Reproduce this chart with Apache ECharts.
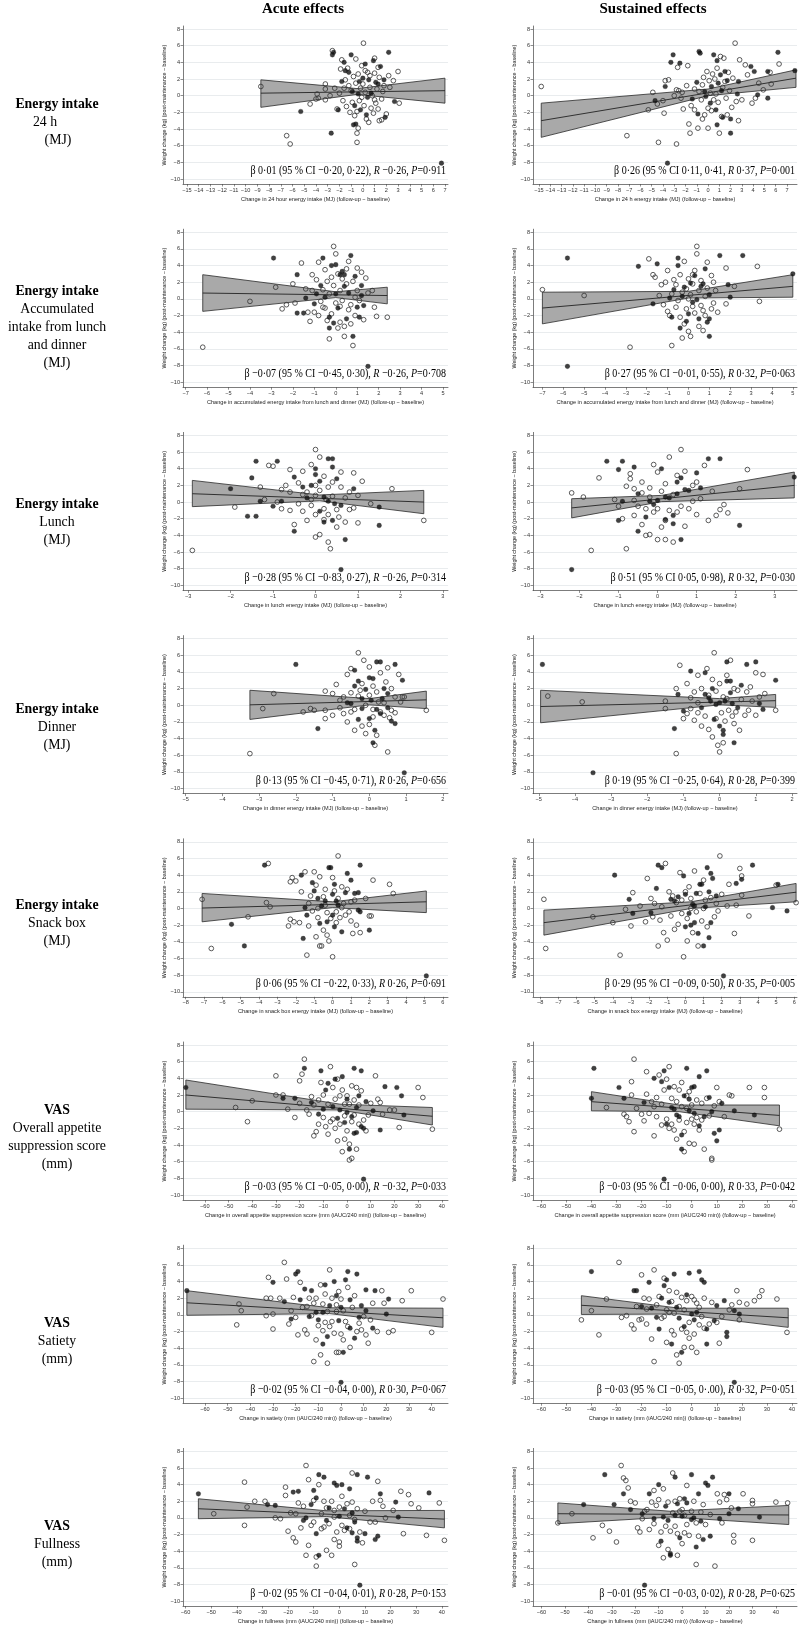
<!DOCTYPE html>
<html lang="en">
<head>
<meta charset="UTF-8">
<title>Weight change against change in energy intake and appetite</title>
<script src="https://cdn.jsdelivr.net/npm/echarts@6/dist/echarts.min.js"></script>
<style>
  html, body { margin: 0; padding: 0; background: #fff; }
  #chart { width: 800px; height: 1625px; }
</style>
</head>
<body>
<div id="chart"></div>
<script>
// ---- tick labels ----
var yTicks = [-10, -8, -6, -4, -2, 0, 2, 4, 6, 8];
var ticks24h = [-15, -14, -13, -12, -11, -10, -9, -8, -7, -6, -5, -4, -3, -2, -1, 0, 1, 2, 3, 4, 5, 6, 7];
var ticksAccum = [-7, -6, -5, -4, -3, -2, -1, 0, 1, 2, 3, 4, 5];
var ticksLunch = [-3, -2, -1, 0, 1, 2, 3];
var ticksDinner = [-5, -4, -3, -2, -1, 0, 1, 2];
var ticksSnack = [-8, -7, -6, -5, -4, -3, -2, -1, 0, 1, 2, 3, 4, 5, 6];
var ticksVas = [-60, -50, -40, -30, -20, -10, 0, 10, 20, 30, 40];

var colTitles = ['Acute effects', 'Sustained effects'];
var rowLabels = [
  ['Energy intake', '24 h', '(MJ)'],
  ['Energy intake', 'Accumulated', 'intake from lunch', 'and dinner', '(MJ)'],
  ['Energy intake', 'Lunch', '(MJ)'],
  ['Energy intake', 'Dinner', '(MJ)'],
  ['Energy intake', 'Snack box', '(MJ)'],
  ['VAS', 'Overall appetite', 'suppression score', '(mm)'],
  ['VAS', 'Satiety', '(mm)'],
  ['VAS', 'Fullness', '(mm)']
];
var yName = 'Weight change (kg) (post-maintenance \u2212 baseline)';
var xNames = [
  'Change in 24 hour energy intake (MJ) (follow-up \u2212 baseline)',
  'Change in 24 h energy intake (MJ) (follow-up \u2212 baseline)',
  'Change in accumulated energy intake from lunch and dinner (MJ) (follow-up \u2212 baseline)',
  'Change in accumulated energy intake from lunch and dinner (MJ) (follow-up \u2212 baseline)',
  'Change in lunch energy intake (MJ) (follow-up \u2212 baseline)',
  'Change in lunch energy intake (MJ) (follow-up \u2212 baseline)',
  'Change in dinner energy intake (MJ) (follow-up \u2212 baseline)',
  'Change in dinner energy intake (MJ) (follow-up \u2212 baseline)',
  'Change in snack box energy intake (MJ) (follow-up \u2212 baseline)',
  'Change in snack box energy intake (MJ) (follow-up \u2212 baseline)',
  'Change in overall appetite suppression score (mm (iAUC/240 min)) (follow-up \u2212 baseline)',
  'Change in overall appetite suppression score (mm (iAUC/240 min)) (follow-up \u2212 baseline)',
  'Change in satiety (mm (iAUC/240 min)) (follow-up \u2212 baseline)',
  'Change in satiety (mm (iAUC/240 min)) (follow-up \u2212 baseline)',
  'Change in fullness (mm (iAUC/240 min)) (follow-up \u2212 baseline)',
  'Change in fullness (mm (iAUC/240 min)) (follow-up \u2212 baseline)'
];
// β / R / P per panel
var statBeta = [
  '0\u00b701 (95 % CI \u22120\u00b720, 0\u00b722)', '0\u00b726 (95 % CI 0\u00b711, 0\u00b741',
  '\u22120\u00b707 (95 % CI \u22120\u00b745, 0\u00b730)', '0\u00b727 (95 % CI \u22120\u00b701, 0\u00b755)',
  '\u22120\u00b728 (95 % CI \u22120\u00b783, 0\u00b727)', '0\u00b751 (95 % CI 0\u00b705, 0\u00b798)',
  '0\u00b713 (95 % CI \u22120\u00b745, 0\u00b771)', '0\u00b719 (95 % CI \u22120\u00b725, 0\u00b764)',
  '0\u00b706 (95 % CI \u22120\u00b722, 0\u00b733)', '0\u00b729 (95 % CI \u22120\u00b709, 0\u00b750)',
  '\u22120\u00b703 (95 % CI \u22120\u00b705, 0\u00b700)', '\u22120\u00b703 (95 % CI \u22120\u00b706, 0\u00b700)',
  '\u22120\u00b702 (95 % CI \u22120\u00b704, 0\u00b700)', '\u22120\u00b703 (95 % CI \u22120\u00b705, 0\u00b7.00)',
  '\u22120\u00b702 (95 % CI \u22120\u00b704, 0\u00b701)', '\u22120\u00b701 (95 % CI \u22120\u00b703, 0\u00b702)'
];
var statR = ['\u22120\u00b726', '0\u00b737', '\u22120\u00b726', '0\u00b732', '\u22120\u00b726', '0\u00b732', '0\u00b726', '0\u00b728',
  '0\u00b726', '0\u00b735', '\u22120\u00b732', '0\u00b733', '0\u00b730', '0\u00b732', '0\u00b728', '0\u00b728'];
var statP = ['0\u00b7911', '0\u00b7001', '0\u00b7708', '0\u00b7063', '0\u00b7314', '0\u00b7030', '0\u00b7656', '0\u00b7399',
  '0\u00b7691', '0\u00b7005', '0\u00b7033', '0\u00b7042', '0\u00b7067', '0\u00b7051', '0\u00b7153', '0\u00b7625'];

// ---- 24 h, acute ----
var a1Filled = [[-5.3,-1.9],[-2.7,-4.5],[-2.5,5.2],[-2.6,4.9],[-1.6,4.0],[-1.5,3.0],[-2.1,-1.7],[-1.0,4.9],[0.2,3.8],[0.9,4.2],[1.5,3.5],[2.2,5.2],[1.9,-2.6],[-0.8,-3.5],[-0.6,-3.4],[6.7,-8.1],[1.8,1.9],[-1.2,2.8],[-0.3,1.7],[0.5,1.9],[1.1,1.6],[-0.7,-1.2],[-0.2,-1.7],[0.3,-2.3],[-0.9,0.5],[0.7,0.3],[1.3,1.4],[-1.8,1.7],[0.0,2.1],[2.7,-0.7],[-0.4,0.2],[0.4,-0.2]];
var a1Open = [[-8.7,1.1],[-6.5,-4.8],[-6.2,-5.8],[-4.5,-1.0],[-4.0,-0.4],[-3.8,-0.3],[-3.9,0.2],[-3.2,1.4],[-3.2,0.8],[-3.2,-0.5],[-2.6,5.4],[-1.8,4.3],[-1.9,3.2],[-1.3,3.3],[-2.2,-1.6],[-0.6,4.4],[0.05,6.3],[-0.1,3.6],[1.0,4.5],[1.3,3.4],[3.0,2.9],[2.2,2.4],[2.3,1.0],[2.0,-2.2],[1.6,-2.9],[1.4,-3.0],[3.1,-0.9],[-0.4,-3.9],[-0.5,-4.5],[-0.5,-5.6],[2.6,1.8],[-1.5,1.9],[-1.2,1.2],[-1.0,0.6],[-0.8,2.3],[-0.6,1.5],[-0.4,2.6],[-0.2,0.9],[0.0,1.4],[0.2,0.4],[0.4,2.8],[0.6,1.0],[0.8,0.0],[1.0,-0.5],[1.2,0.8],[1.4,2.2],[1.7,0.5],[-2.0,0.3],[-1.7,-0.6],[-1.4,-1.3],[-1.1,-2.0],[-0.9,-0.8],[-0.7,-2.4],[-0.5,-1.9],[-0.3,-0.6],[0.1,-1.2],[0.3,-2.8],[0.5,-3.2],[0.7,-1.5],[0.9,-2.1],[1.1,-0.9],[1.3,-1.6],[1.6,-0.4],[-2.4,0.9],[-2.8,0.0],[0.6,2.4],[-0.1,-0.2],[1.8,1.2],[-1.6,0.9],[0.2,3.0],[1.0,2.7]];
var a1Fit = [[-8.7,0.3],[7.0,0.6]];
var a1Band = [[-8.7,-1.4,1.9],[-0.5,0.15,0.85],[7.0,-0.9,2.1]];

// ---- 24 h, sustained ----
var a2Filled = [[-3.1,4.9],[-3.3,4.0],[-2.5,3.9],[-3.6,-8.1],[-3.8,1.1],[-4.7,-0.6],[-1.4,-0.4],[-1.0,1.6],[-0.9,-2.2],[-0.8,5.3],[-0.7,5.1],[0.5,4.9],[0.8,4.2],[1.5,2.9],[1.7,1.8],[2.0,-2.8],[2.0,-4.5],[1.3,-2.6],[0.7,-1.7],[0.8,-3.5],[0.2,-0.9],[-0.3,0.5],[0.9,1.5],[1.1,2.5],[2.6,0.2],[2.7,1.7],[3.8,3.5],[4.1,2.9],[4.4,0.1],[5.3,2.9],[5.3,-0.3],[6.2,5.2],[7.7,3.0],[0.3,1.1],[-0.2,-0.1],[1.2,0.6]];
var a2Open = [[-14.8,1.1],[-7.2,-4.8],[-5.3,-1.7],[-4.9,0.4],[-4.5,-1.0],[-4.4,-5.6],[-4.0,-0.6],[-3.8,1.8],[-3.5,1.9],[-3.9,-2.1],[-3.0,0.0],[-2.8,0.7],[-2.7,3.4],[-2.6,0.6],[-2.8,-5.8],[-2.3,0.4],[-2.2,-1.6],[-1.8,3.6],[-1.6,-4.5],[-1.7,-3.4],[-1.5,-1.2],[-1.2,-1.7],[-1.2,0.8],[-0.9,-3.9],[-0.6,-0.5],[-0.5,1.3],[-0.4,2.2],[-0.3,-2.3],[-0.1,2.9],[0.0,-3.9],[0.1,1.8],[0.3,-1.8],[0.4,2.6],[0.5,-0.5],[0.6,2.0],[0.7,0.2],[0.9,-0.8],[1.0,-4.5],[1.1,4.7],[1.2,-2.5],[1.4,4.5],[1.5,1.7],[1.6,-0.3],[1.8,2.8],[1.9,0.6],[2.1,-1.4],[2.2,2.1],[2.4,6.3],[2.5,-0.7],[2.7,-3.0],[2.8,4.3],[3.0,-0.5],[3.3,3.7],[3.5,2.5],[3.9,-0.9],[4.2,-0.3],[4.5,1.5],[4.9,0.7],[5.6,1.4],[6.3,3.8],[5.5,2.8],[-0.8,0.5],[0.2,0.3],[1.3,1.0],[-1.9,1.2],[-2.4,-0.3],[0.0,-1.5],[0.8,3.3],[-0.5,-2.8],[1.7,-2.3]];
var a2Fit = [[-14.8,-3.0],[7.8,2.1]];
var a2Band = [[-14.8,-5.0,-0.9],[0,0.0,0.8],[7.8,1.0,3.1]];

// ---- lunch + dinner, acute ----
var a3Filled = [[-2.9,4.9],[-1.8,2.9],[-1.8,-1.7],[-1.5,-1.7],[-1.4,0.1],[-1.0,-0.6],[-0.9,0.6],[-0.7,1.6],[-0.6,4.9],[-0.3,-2.2],[-0.2,4.0],[0.0,4.1],[0.2,2.9],[0.3,3.3],[0.4,1.5],[0.1,-1.1],[-0.3,-3.5],[-0.1,-2.9],[0.5,-2.4],[0.7,5.2],[0.9,2.7],[1.1,-2.2],[1.2,0.4],[1.2,1.6],[1.3,-0.8],[0.8,-4.5],[1.5,-8.1],[0.4,2.9],[-0.5,0.2],[0.6,0.7],[0.0,0.6],[1.0,-1.0]];
var a3Open = [[-6.2,-5.8],[-4.0,-0.3],[-2.8,1.4],[-2.3,-0.7],[-2.0,1.8],[-1.9,-0.5],[-1.6,4.3],[-1.4,1.2],[-1.2,-2.7],[-1.1,1.0],[-1.0,-1.6],[-0.9,2.3],[-0.8,-2.0],[-0.8,4.4],[-0.7,-0.3],[-0.6,1.1],[-0.5,3.5],[-0.5,-1.1],[-0.4,2.1],[-0.4,-2.6],[-0.3,0.6],[-0.2,-1.8],[-0.1,6.3],[-0.1,1.6],[0.0,5.4],[0.0,-0.5],[0.1,3.0],[0.1,-3.5],[0.2,1.0],[0.2,-2.8],[0.3,-0.2],[0.4,-4.5],[0.4,-3.3],[0.5,3.6],[0.5,1.8],[0.6,-1.3],[0.6,4.5],[0.7,-0.7],[0.8,2.1],[0.8,-5.6],[0.9,0.2],[0.9,-2.0],[1.0,3.7],[1.0,1.0],[1.1,-0.2],[1.3,-2.5],[1.4,2.5],[1.5,0.7],[1.7,1.0],[1.8,-1.0],[1.9,-2.1],[2.4,-2.2],[-0.3,-4.8],[-0.2,2.6],[0.3,2.4],[-1.3,-1.6],[-0.6,-1.0],[0.2,-0.9],[1.2,3.2],[-2.5,-1.2],[0.7,-3.0],[-1.1,2.9]];
var a3Fit = [[-6.2,0.7],[2.4,0.4]];
var a3Band = [[-6.2,-1.5,2.9],[0,0.15,0.85],[2.4,-0.6,1.4]];

// ---- lunch + dinner, sustained ----
var a4Filled = [[-5.8,4.9],[-5.8,-8.1],[-2.4,3.9],[-1.5,4.2],[-1.7,-0.6],[-0.9,0.1],[-0.8,-2.2],[-0.7,1.1],[-0.5,4.9],[-0.5,4.0],[-0.4,-3.5],[-0.3,0.3],[-0.1,-2.7],[0.0,-1.8],[0.1,1.9],[0.4,-0.1],[0.5,-2.4],[0.6,1.5],[0.7,1.8],[0.8,3.6],[0.9,-2.8],[1.0,-2.4],[1.0,-4.5],[1.0,0.5],[1.5,5.2],[1.9,1.7],[2.0,0.2],[2.6,5.2],[5.0,3.0],[0.2,-0.4],[-0.2,1.4],[0.3,2.8]];
var a4Open = [[-7.0,1.1],[-5.0,0.4],[-2.8,-5.8],[-1.9,4.8],[-1.7,2.9],[-1.6,2.6],[-1.3,1.7],[-1.2,-0.7],[-1.1,2.0],[-1.0,3.4],[-1.0,-1.5],[-0.9,-2.0],[-0.8,-5.6],[-0.7,2.3],[-0.6,-1.0],[-0.6,1.7],[-0.5,-0.2],[-0.4,2.9],[-0.4,-2.2],[-0.3,0.8],[-0.2,-3.0],[-0.2,4.5],[-0.1,1.2],[-0.1,-1.2],[0.0,2.4],[0.0,-3.9],[0.1,-4.5],[0.1,0.5],[0.2,-0.9],[0.2,2.9],[0.3,-1.7],[0.4,6.3],[0.4,5.4],[0.5,1.0],[0.5,-3.3],[0.6,-0.8],[0.6,2.2],[0.7,-1.4],[0.8,0.3],[0.8,-2.0],[0.9,4.4],[0.9,1.3],[1.1,2.8],[1.1,-1.2],[1.2,-0.5],[1.3,1.0],[1.4,-1.6],[1.8,3.7],[1.8,-0.6],[2.2,1.5],[3.3,3.9],[3.4,-0.3],[0.0,0.0],[-0.3,-4.7],[0.3,3.4],[-0.8,0.6],[0.7,-3.8],[1.2,2.0],[-1.4,0.4],[0.2,1.8]];
var a4Fit = [[-7.0,-1.1],[5.0,1.5]];
var a4Band = [[-7.0,-3.0,0.8],[0,0.1,0.9],[5.0,0.2,2.9]];

// ---- lunch, acute ----
var a5Filled = [[-2.0,1.6],[-1.6,-1.7],[-1.4,4.9],[-1.5,2.9],[-1.4,-1.7],[-1.3,0.1],[-1.0,-0.5],[-0.9,4.9],[-0.8,0.1],[-0.5,3.0],[-0.5,-3.5],[-0.3,1.8],[-0.1,2.0],[0.0,3.3],[0.0,4.0],[0.1,2.5],[0.2,-2.4],[0.3,0.1],[0.3,5.2],[0.4,5.2],[0.4,4.2],[0.4,-2.2],[0.5,2.8],[0.6,-0.4],[0.7,-4.5],[0.6,-8.1],[0.9,1.6],[1.5,-0.6],[1.5,-2.8],[0.2,0.6],[0.1,-1.1],[-0.2,0.5],[0.45,-0.2]];
var a5Open = [[-2.9,-5.8],[-1.9,-0.6],[-1.3,1.8],[-1.2,0.3],[-1.1,4.4],[-1.0,4.3],[-0.9,0.0],[-0.8,-0.8],[-0.7,2.0],[-0.6,3.9],[-0.6,1.2],[-0.5,-2.7],[-0.4,-0.2],[-0.4,2.3],[-0.3,-1.1],[-0.3,3.7],[-0.2,-2.2],[-0.2,1.2],[-0.1,0.3],[-0.1,4.5],[0.0,-1.5],[0.0,-4.2],[0.0,6.3],[0.1,-3.9],[0.1,1.4],[0.1,5.4],[0.2,-0.8],[0.2,3.1],[0.2,-2.1],[0.3,-4.8],[0.3,1.8],[0.3,-1.5],[0.35,-5.6],[0.4,0.7],[0.5,-3.0],[0.5,-0.9],[0.6,1.8],[0.6,3.6],[0.7,0.5],[0.7,-2.4],[0.8,-0.9],[0.9,3.5],[0.9,-0.7],[1.0,0.8],[1.0,-2.5],[1.1,2.5],[1.3,-0.2],[1.8,1.6],[2.55,-2.2],[0.0,2.0],[-0.3,0.9],[0.4,2.4],[-0.6,-1.0],[0.8,1.2],[-0.1,-0.4],[0.25,0.3],[-0.8,1.5],[0.55,-1.8],[0.0,0.8]];
var a5Fit = [[-2.9,1.0],[2.55,0.0]];
var a5Band = [[-2.9,-0.55,2.6],[0.1,0.15,0.85],[2.55,-1.4,1.4]];

// ---- lunch, sustained ----
var a6Filled = [[-2.2,-8.1],[-1.3,4.9],[-1.0,3.9],[-0.9,4.9],[-1.0,-2.2],[-0.9,0.1],[-0.6,4.2],[-0.5,-3.5],[-0.5,1.0],[-0.3,-1.8],[-0.2,0.1],[0.0,0.2],[0.1,4.0],[0.2,-2.1],[0.3,0.5],[0.4,-1.6],[0.4,-2.6],[0.5,1.0],[0.6,-4.5],[0.6,2.9],[0.7,1.5],[0.8,1.4],[1.0,3.5],[1.1,1.7],[1.3,5.2],[1.6,5.2],[2.1,-2.8],[3.5,3.0],[0.2,0.6],[-0.1,-0.3],[0.5,2.4]];
var a6Open = [[-2.2,1.1],[-1.9,0.6],[-1.7,-5.8],[-1.5,2.9],[-1.1,0.3],[-1.0,-0.5],[-0.9,-2.0],[-0.8,-5.6],[-0.8,1.9],[-0.7,3.4],[-0.7,2.8],[-0.6,-1.6],[-0.6,1.6],[-0.5,-0.5],[-0.4,-2.7],[-0.4,2.4],[-0.3,-0.8],[-0.3,-4.0],[-0.2,-3.9],[-0.2,1.7],[-0.1,4.5],[-0.1,-1.2],[0.0,-4.5],[0.0,3.6],[0.0,-0.8],[0.1,1.3],[0.1,-3.0],[0.2,-4.5],[0.2,2.2],[0.3,-1.0],[0.3,5.4],[0.4,-4.8],[0.5,-1.2],[0.5,3.2],[0.6,-0.5],[0.6,6.3],[0.7,3.7],[0.8,-0.8],[0.9,2.0],[1.0,-1.5],[1.1,0.4],[1.2,4.4],[1.3,-2.2],[1.4,1.3],[1.5,-1.6],[1.6,-0.9],[1.7,-0.3],[1.8,-1.3],[2.1,1.6],[2.3,3.9],[-0.2,0.6],[0.4,0.9],[-0.6,0.2],[0.9,0.1],[0.2,-2.2],[-0.4,1.1],[0.7,-2.9],[1.0,2.4]];
var a6Fit = [[-2.2,-0.7],[3.5,2.0]];
var a6Band = [[-2.2,-1.9,0.4],[0.1,0.05,0.8],[3.5,0.5,3.6]];

// ---- dinner, acute ----
var a7Filled = [[-2.0,4.9],[-1.4,-2.8],[-0.5,0.2],[-0.4,2.3],[-0.4,4.2],[-0.3,2.9],[-0.3,-1.7],[-0.2,0.8],[-0.2,-0.4],[-0.1,1.9],[0.0,3.3],[0.0,-1.6],[0.1,3.2],[0.1,-4.5],[0.15,-3.0],[0.2,5.2],[0.3,5.2],[0.3,-1.0],[0.35,0.8],[0.4,2.0],[0.5,-0.3],[0.5,1.4],[0.6,-1.9],[0.7,4.9],[0.7,-2.2],[0.9,3.0],[0.95,-8.1],[-0.6,0.3],[0.2,-0.5],[0.05,0.6]];
var a7Open = [[-3.25,-5.8],[-2.9,-0.4],[-2.6,1.4],[-1.8,-0.8],[-1.6,-0.4],[-1.5,-0.6],[-1.2,-1.6],[-1.2,-0.6],[-1.2,1.7],[-1.0,1.4],[-0.9,2.5],[-0.8,-0.3],[-0.7,1.0],[-0.7,-1.0],[-0.6,3.7],[-0.6,-2.0],[-0.5,1.5],[-0.5,4.4],[-0.5,-0.8],[-0.4,-3.0],[-0.3,6.3],[-0.3,1.1],[-0.2,-2.5],[-0.2,2.6],[-0.15,5.4],[-0.1,-3.4],[-0.1,0.0],[0.0,4.6],[0.0,1.2],[0.0,-2.3],[0.1,-0.5],[0.1,2.3],[0.15,-4.8],[0.2,-3.6],[0.2,1.6],[0.3,3.9],[0.3,-0.8],[0.4,0.3],[0.4,-1.2],[0.45,2.8],[0.5,-5.6],[0.5,4.5],[0.6,2.0],[0.6,-0.6],[0.7,1.0],[0.8,3.7],[0.85,0.4],[0.9,1.0],[0.95,1.0],[1.55,-0.6],[-0.8,0.6],[-0.4,-0.5],[0.25,0.4],[0.55,-1.5],[-0.25,1.8],[0.7,-0.9],[-1.0,-1.2],[0.1,-1.4]];
var a7Fit = [[-3.25,0.05],[1.55,0.65]];
var a7Band = [[-3.25,-1.7,1.8],[0,0.05,0.8],[1.55,-0.4,1.7]];

// ---- dinner, sustained ----
var a8Filled = [[-4.9,4.9],[-3.5,-8.1],[-1.25,-2.8],[-1.15,1.3],[-1.0,-0.7],[-0.8,4.1],[-0.5,-0.3],[-0.4,3.9],[-0.4,1.3],[-0.3,0.9],[-0.2,2.0],[-0.15,-1.7],[-0.1,0.1],[0.0,0.3],[0.0,-2.5],[0.1,-3.0],[0.1,-3.5],[0.2,5.2],[0.2,2.9],[0.3,2.9],[0.3,1.5],[0.35,0.2],[0.4,-4.5],[0.5,-0.3],[0.6,2.4],[0.75,4.9],[1.0,5.2],[1.1,0.2],[1.2,-0.5],[1.55,3.0],[0.15,0.5],[-0.25,0.5]];
var a8Open = [[-4.75,1.1],[-3.8,0.4],[-1.5,0.5],[-1.5,-0.4],[-1.2,-5.8],[-1.2,2.0],[-1.1,4.8],[-1.0,-1.6],[-0.9,-1.0],[-0.9,2.6],[-0.8,-0.4],[-0.7,-1.8],[-0.7,1.6],[-0.6,3.6],[-0.6,-0.9],[-0.5,2.0],[-0.5,-2.5],[-0.4,-1.3],[-0.35,4.4],[-0.3,-2.9],[-0.3,1.2],[-0.2,-3.8],[-0.2,3.1],[-0.15,6.3],[-0.1,-1.6],[-0.1,1.7],[-0.05,-4.8],[0.0,-5.6],[0.0,2.6],[0.05,-0.9],[0.1,1.0],[0.1,-4.5],[0.15,-1.9],[0.2,3.6],[0.25,-0.6],[0.3,5.4],[0.35,-1.3],[0.4,2.0],[0.45,-0.8],[0.5,1.8],[0.55,-3.0],[0.6,0.7],[0.7,-1.2],[0.75,1.6],[0.8,-0.6],[0.85,2.2],[0.9,0.5],[1.0,3.9],[1.0,-1.2],[1.1,1.0],[1.2,3.7],[1.25,1.4],[1.55,-0.6],[-0.6,0.3],[0.2,0.8],[-0.8,0.9],[0.4,-2.2]];
var a8Fit = [[-4.95,-0.15],[1.55,0.55]];
var a8Band = [[-4.95,-2.1,1.8],[0,0.05,0.8],[1.55,-0.25,1.3]];

// ---- snack box, acute ----
var a9Filled = [[-5.5,-1.9],[-4.8,-4.5],[-3.7,5.2],[-1.7,4.0],[-1.5,0.1],[-1.4,-0.8],[-1.1,3.1],[-1.0,2.1],[-0.8,1.2],[-0.7,-1.8],[-0.6,0.3],[-0.4,0.9],[-0.3,-1.6],[-0.2,4.9],[-0.1,4.9],[0.0,1.7],[0.0,-0.8],[0.1,2.9],[0.1,-2.2],[0.3,0.4],[0.5,-2.8],[0.7,1.9],[0.8,4.2],[1.0,3.4],[1.2,1.8],[1.4,1.9],[1.4,-0.2],[1.5,-0.4],[1.5,5.2],[2.0,-2.6],[5.1,-8.1],[-1.6,-3.6],[0.2,0.9]];
var a9Open = [[-7.1,1.1],[-6.6,-4.8],[-4.6,-1.0],[-3.6,0.7],[-3.5,5.4],[-3.4,0.2],[-2.4,-2.1],[-2.3,3.2],[-2.2,3.7],[-2.1,-1.6],[-2.0,3.3],[-1.8,-1.7],[-1.7,2.0],[-1.5,4.4],[-1.4,-5.6],[-1.3,-2.1],[-1.2,1.5],[-1.1,-0.3],[-1.0,4.4],[-0.9,-3.4],[-0.9,2.8],[-0.8,-1.1],[-0.7,3.8],[-0.7,-4.5],[-0.6,-4.5],[-0.5,1.4],[-0.5,-2.6],[-0.4,2.3],[-0.3,-0.5],[-0.3,-3.2],[-0.2,-3.9],[-0.1,-1.2],[0.0,3.7],[0.0,-5.8],[0.1,2.1],[0.2,-1.7],[0.3,6.3],[0.3,1.2],[0.4,-1.1],[0.5,2.6],[0.6,0.6],[0.7,-0.8],[0.8,2.3],[0.9,-0.4],[1.0,-1.5],[1.1,-3.0],[1.2,1.0],[1.3,-2.0],[1.5,-2.9],[1.8,1.2],[2.1,-0.9],[2.2,3.4],[2.0,-0.9],[3.1,2.9],[3.3,1.8],[-0.4,0.4],[0.5,0.1],[-1.3,0.6],[0.2,-0.4],[1.0,0.8],[-0.8,0.0],[-2.3,-1.3]];
var a9Fit = [[-7.1,0.05],[5.1,0.8]];
var a9Band = [[-7.1,-1.6,1.8],[0,0.1,0.8],[5.1,-0.5,2.1]];

// ---- snack box, sustained ----
var a10Filled = [[-3.9,4.0],[-3.1,1.1],[-2.9,-0.6],[-1.9,-0.5],[-1.6,2.4],[-1.5,5.2],[-1.3,4.9],[-0.8,1.1],[-0.6,0.9],[-0.4,1.4],[-0.1,3.9],[0.0,-2.2],[0.0,1.7],[0.2,-0.6],[0.3,-2.0],[0.4,0.5],[0.5,-1.7],[0.6,1.8],[0.7,-3.0],[0.8,2.9],[0.9,2.9],[1.0,-4.5],[1.1,0.2],[1.2,4.9],[1.3,-3.5],[1.3,2.0],[1.4,4.2],[1.4,-1.7],[1.5,3.6],[1.7,1.5],[2.1,-8.1],[2.8,3.0],[3.1,3.5],[3.7,5.2],[4.8,0.1],[5.1,2.9],[5.6,-0.3],[0.5,0.3]];
var a10Open = [[-7.8,1.1],[-7.7,-4.8],[-5.1,-1.0],[-4.0,-1.7],[-3.6,-5.6],[-3.3,-0.1],[-3.0,-2.1],[-2.9,1.9],[-2.5,0.3],[-2.2,-1.6],[-2.1,3.6],[-1.8,-1.0],[-1.7,0.6],[-1.5,-4.5],[-1.4,-1.4],[-1.3,0.2],[-1.2,-2.9],[-1.1,5.4],[-1.0,-3.8],[-0.9,2.0],[-0.8,-0.9],[-0.7,1.5],[-0.6,-2.5],[-0.5,0.7],[-0.4,-1.9],[-0.3,4.3],[-0.2,-0.6],[-0.1,-5.8],[0.0,2.0],[0.1,-3.9],[0.1,-1.2],[0.2,2.6],[0.3,1.2],[0.4,-2.9],[0.5,4.5],[0.6,-0.4],[0.7,-4.5],[0.8,1.8],[0.9,-1.5],[1.0,3.4],[1.1,1.0],[1.2,-2.2],[1.4,1.3],[1.6,-1.0],[1.7,0.6],[1.9,6.3],[1.8,-0.3],[2.0,1.7],[2.3,0.3],[2.4,2.9],[2.7,-3.0],[2.8,0.4],[3.0,4.8],[3.1,1.6],[3.1,3.9],[3.5,-0.9],[5.0,2.8],[6.1,0.7],[0.3,0.0],[-0.2,1.0],[1.0,0.0],[-1.9,1.2]];
var a10Fit = [[-7.8,-1.7],[6.1,1.95]];
var a10Band = [[-7.8,-3.2,-0.2],[0.3,0.0,0.8],[6.1,0.8,3.0]];

// ---- VAS overall appetite suppression, acute ----
var a11Filled = [[-68,2.9],[-27,1.6],[-22,1.6],[-18,5.2],[-15,1.1],[-12,-0.3],[-11,4.9],[-10,0.3],[-9,2.6],[-8,3.4],[-6,0.6],[-5,3.9],[-3,0.2],[-2,4.2],[-1,-1.3],[0,-0.1],[1,-4.5],[2,-0.6],[3,5.2],[3,-2.6],[4,-2.5],[4,0.5],[5,1.9],[6,4.9],[6,-1.8],[7,-2.0],[7,-8.1],[8,1.2],[11,0.1],[14,-2.2],[16,3.0],[21,2.9],[23,1.9],[24,-0.4],[-4,-0.8],[0,1.5]];
var a11Open = [[-47,0.5],[-42,-1.2],[-40,1.3],[-30,4.3],[-30,2.0],[-27,2.0],[-25,0.3],[-22,-0.7],[-20,3.7],[-19,4.5],[-18,6.3],[-17,0.2],[-16,-0.3],[-15,1.8],[-14,-2.9],[-14,0.8],[-13,-2.4],[-12,1.4],[-12,-1.5],[-11,3.5],[-10,-0.7],[-10,2.0],[-9,-1.8],[-8,0.9],[-8,-2.7],[-7,5.4],[-7,-1.2],[-6,2.9],[-6,-0.9],[-5,-2.0],[-5,1.5],[-4,3.9],[-4,-3.5],[-3,1.9],[-3,-1.5],[-2,-4.8],[-2,2.6],[-1,0.9],[-1,-3.3],[0,1.9],[0,-2.3],[1,-3.9],[1,-5.8],[1,0.9],[2,-5.6],[2,3.1],[2,-1.2],[3,-0.4],[3,1.4],[4,2.9],[4,-4.5],[5,-1.5],[5,0.8],[6,2.5],[7,-1.0],[8,-2.3],[9,-0.4],[10,1.0],[12,4.3],[13,1.5],[14,1.1],[15,-0.3],[18,0.2],[20,0.2],[22,-1.9],[30,2.9],[32,1.7],[36,-2.1],[-20,1.0],[-1,-0.5]];
var a11Fit = [[-68,2.0],[36,-0.55]];
var a11Band = [[-68,0.3,3.8],[-3,0.2,0.9],[36,-1.6,0.5]];

// ---- VAS overall appetite suppression, sustained ----
var a12Filled = [[-40,1.6],[-39,5.2],[-29,2.9],[-27,1.6],[-19,1.1],[-15,4.0],[-12,3.6],[-11,-8.1],[-11,4.9],[-10,-1.5],[-9,2.9],[-8,0.5],[-6,-0.4],[-5,-0.6],[-4,-2.8],[-4,-4.5],[-3,1.9],[-2,5.2],[-1,1.5],[0,2.9],[1,-0.2],[1,3.0],[3,4.2],[3,-1.7],[5,-0.6],[6,4.9],[7,1.7],[8,0.0],[9,-2.6],[10,-3.5],[11,-2.2],[12,1.0],[17,0.1],[25,-0.4],[-7,0.3],[-1,0.1]];
var a12Open = [[-34,0.5],[-27,-0.3],[-26,-0.6],[-25,-1.2],[-24,3.6],[-24,2.0],[-23,-2.4],[-23,6.3],[-22,0.4],[-20,-0.3],[-19,-1.1],[-18,4.8],[-18,2.1],[-17,-0.2],[-16,1.2],[-15,-2.9],[-14,1.7],[-14,-0.6],[-13,4.4],[-12,0.9],[-12,-1.6],[-11,2.6],[-10,3.9],[-10,-0.9],[-9,5.4],[-9,-2.0],[-8,1.6],[-8,-1.5],[-7,3.0],[-7,-2.2],[-6,1.2],[-6,-3.3],[-5,2.6],[-5,-1.0],[-4,0.6],[-4,3.5],[-3,-2.4],[-3,-4.8],[-2,0.4],[-2,-1.3],[-1,2.4],[-1,-3.8],[0,-0.9],[0,0.8],[1,-1.5],[1,-3.9],[2,1.4],[2,-0.7],[3,-2.2],[4,1.0],[4,-1.0],[5,-4.5],[6,1.6],[7,-0.5],[8,-5.6],[8,-5.8],[9,0.7],[10,2.9],[11,1.2],[13,-0.6],[15,2.0],[16,1.9],[23,2.9],[29,2.9],[29,1.7],[35,-2.1],[-15,0.6],[-2,1.9]];
var a12Fit = [[-40,1.2],[35,-0.45]];
var a12Band = [[-40,0.1,2.4],[-5,0.0,0.8],[35,-1.7,0.8]];

// ---- VAS satiety, acute ----
var a13Filled = [[-68,2.9],[-30,3.9],[-25,1.6],[-22,-0.5],[-20,4.9],[-19,5.2],[-18,1.8],[-16,3.1],[-14,-0.2],[-13,2.9],[-11,0.3],[-10,-0.6],[-8,-3.5],[-7,3.6],[-6,-2.6],[-5,1.1],[-3,4.0],[-2,2.3],[-1,-0.7],[0,-8.1],[1,-4.5],[2,4.2],[3,5.2],[4,1.8],[4,-1.6],[6,-2.8],[7,4.9],[8,-0.3],[9,1.1],[11,3.0],[11,0.5],[14,-1.6],[15,2.9],[20,0.1],[21,1.9],[-8,0.3],[0,0.9]];
var a13Open = [[-46,-1.2],[-45,1.3],[-44,0.5],[-33,2.0],[-33,-0.1],[-32,4.5],[-31,2.0],[-30,-1.7],[-30,0.1],[-27,2.0],[-25,6.3],[-24,4.3],[-23,-1.1],[-22,0.5],[-21,2.1],[-20,-0.3],[-19,-2.4],[-18,3.9],[-17,0.9],[-16,-1.8],[-15,1.0],[-15,-2.3],[-14,2.0],[-13,-0.1],[-12,-5.6],[-12,1.4],[-11,-3.0],[-11,2.0],[-10,-1.3],[-9,3.6],[-9,-4.8],[-8,1.3],[-8,-1.9],[-7,-0.9],[-7,2.5],[-6,-5.8],[-6,0.4],[-5,-1.4],[-5,5.4],[-4,2.0],[-4,-0.8],[-3,-2.2],[-2,-4.5],[-2,1.2],[-1,-4.5],[-1,2.8],[0,-2.3],[0,1.9],[1,0.5],[1,-3.0],[2,-0.8],[3,3.3],[3,-1.4],[4,-3.9],[5,0.9],[6,2.3],[7,-2.0],[8,-1.0],[9,-1.8],[10,-0.2],[11,-2.4],[12,-3.4],[13,-0.6],[14,1.4],[16,-2.0],[18,2.9],[19,1.4],[21,-2.1],[23,-1.9],[27,1.7],[31,2.9],[40,-2.1],[45,1.9],[-2,0.4]];
var a13Fit = [[-68,1.45],[45,-0.35]];
var a13Band = [[-68,-0.05,2.9],[-5,0.15,0.85],[45,-1.5,0.8]];

// ---- VAS satiety, sustained ----
var a14Filled = [[-40,5.2],[-23,2.9],[-22,2.9],[-17,3.9],[-16,0.8],[-14,-0.3],[-13,-1.7],[-12,2.0],[-11,3.5],[-10,4.2],[-9,1.5],[-8,-3.5],[-7,4.9],[-6,0.9],[-5,-0.4],[-4,-4.5],[-3,-1.4],[-2,2.4],[-1,5.0],[0,0.1],[1,-0.6],[3,5.2],[4,4.2],[5,3.9],[6,-1.7],[6,-3.5],[9,-0.7],[10,1.1],[13,1.7],[14,-2.1],[14,-2.6],[17,-8.1],[17,0.5],[19,0.1],[-20,1.0],[2,0.3]];
var a14Open = [[-44,-0.6],[-40,0.5],[-37,-2.4],[-34,1.9],[-29,6.3],[-28,-0.3],[-26,-0.1],[-24,-1.2],[-23,-1.7],[-22,1.0],[-21,-0.6],[-20,4.8],[-20,-0.5],[-19,2.0],[-18,0.7],[-18,-1.1],[-17,1.9],[-16,-2.9],[-15,-5.6],[-15,5.4],[-14,1.2],[-13,2.2],[-12,-0.4],[-11,-0.2],[-11,4.4],[-10,-3.3],[-10,0.6],[-9,2.9],[-8,1.6],[-8,-1.9],[-7,0.2],[-7,-2.4],[-6,-4.8],[-6,2.7],[-5,-5.8],[-5,1.0],[-4,-1.7],[-4,2.1],[-3,-3.9],[-3,0.6],[-2,-2.1],[-2,1.7],[-1,-0.9],[-1,-2.8],[0,2.2],[0,-3.9],[1,1.8],[1,-2.3],[2,-4.5],[2,1.4],[3,-1.2],[3,0.9],[4,-0.2],[5,2.0],[5,-1.6],[7,-1.1],[8,1.5],[10,-0.9],[11,-3.4],[12,-0.2],[15,0.6],[16,1.2],[18,2.9],[19,1.5],[19,-0.6],[22,1.3],[25,1.7],[27,2.2],[28,2.9],[34,1.9],[38,-2.1],[-9,0.3]];
var a14Fit = [[-44,1.15],[38.5,-0.35]];
var a14Band = [[-44,0.05,2.3],[-5,0.1,0.8],[38.5,-1.5,0.8]];

// ---- VAS fullness, acute ----
var a15Filled = [[-55,2.9],[-28,1.6],[-25,1.5],[-18,3.1],[-16,3.2],[-14,-0.3],[-13,0.0],[-11,1.6],[-10,3.3],[-9,2.4],[-9,-1.9],[-8,5.2],[-8,-4.5],[-6,4.9],[-4,1.2],[-2,4.2],[-1,3.9],[0,0.2],[1,4.0],[2,1.1],[4,3.5],[5,-1.8],[5,0.6],[6,-0.5],[7,5.2],[7,-2.4],[7,-2.8],[8,-8.1],[10,-1.9],[11,4.9],[14,-2.6],[15,-2.2],[16,2.9],[22,1.9],[23,0.1],[35,3.0],[-5,-0.3],[3,-1.2]];
var a15Open = [[-49,0.5],[-37,4.3],[-37,-0.9],[-36,1.3],[-33,2.0],[-29,2.0],[-25,0.0],[-23,-0.1],[-21,2.7],[-21,3.7],[-20,-1.6],[-19,0.6],[-18,-2.4],[-17,0.5],[-17,-2.9],[-16,1.8],[-15,-1.2],[-14,1.4],[-13,6.3],[-13,-4.5],[-12,4.6],[-12,-3.3],[-11,-0.9],[-10,2.1],[-10,-0.5],[-9,-5.8],[-9,-4.7],[-8,4.0],[-7,0.5],[-7,-1.3],[-6,2.0],[-6,-1.1],[-5,1.2],[-5,-3.9],[-4,-0.7],[-3,2.0],[-3,-4.5],[-2,0.9],[-2,-2.6],[-1,-1.7],[0,-3.4],[0,1.3],[0,-2.9],[1,2.6],[1,-0.9],[2,-1.5],[3,1.7],[4,0.3],[4,-1.3],[5,5.4],[5,1.9],[6,-0.2],[6,-5.6],[7,1.1],[8,-1.7],[9,-3.0],[10,0.8],[12,-0.5],[13,2.0],[14,-0.5],[15,4.4],[16,2.1],[17,1.4],[18,0.0],[21,0.9],[24,3.2],[25,-1.9],[27,2.8],[28,1.7],[31,1.2],[34,-2.1],[39,1.8],[41,-2.7],[-2,0.1]];
var a15Fit = [[-55,1.1],[41,-0.15]];
var a15Band = [[-55,-0.1,2.3],[-5,0.15,0.85],[41,-1.2,0.9]];

// ---- VAS fullness, sustained ----
var a16Filled = [[-42,1.6],[-33,5.2],[-29,1.6],[-25,2.9],[-22,1.0],[-17,0.5],[-16,-8.1],[-14,2.9],[-12,-0.1],[-10,4.0],[-9,-2.8],[-8,0.1],[-7,1.4],[-6,-0.3],[-5,-4.5],[-5,-4.3],[-3,4.9],[-2,1.7],[-1,-2.4],[0,0.2],[1,2.3],[2,1.8],[4,-0.2],[4,5.2],[5,0.0],[6,-3.5],[7,2.9],[8,-0.4],[9,-2.6],[10,4.2],[11,3.9],[12,-2.2],[13,4.9],[16,-0.1],[20,0.5],[20,2.9],[24,1.1],[33,0.1],[-3,0.3]];
var a16Open = [[-53,-0.6],[-47,0.5],[-38,-2.4],[-34,-0.9],[-31,-1.6],[-28,-2.9],[-26,6.3],[-25,4.8],[-24,4.5],[-23,3.6],[-22,2.0],[-20,1.8],[-19,-1.2],[-18,-1.7],[-17,-0.1],[-16,0.8],[-15,1.0],[-14,-1.4],[-13,1.9],[-12,-0.7],[-12,3.3],[-11,1.5],[-10,-3.3],[-10,2.2],[-9,-1.7],[-8,3.5],[-8,-4.8],[-7,-1.0],[-6,1.9],[-6,-3.8],[-5,-1.6],[-4,5.4],[-4,0.6],[-3,-1.0],[-3,2.0],[-2,-1.9],[-2,-4.5],[-1,2.3],[-1,0.8],[0,-3.1],[0,1.0],[1,-1.8],[2,3.9],[2,-0.8],[3,-2.1],[4,0.8],[5,2.0],[6,-5.6],[6,-0.6],[7,-2.2],[8,0.7],[9,1.6],[10,-0.8],[12,0.4],[14,-5.8],[15,2.9],[16,1.9],[17,-0.6],[18,2.8],[19,2.2],[21,1.2],[22,-2.9],[22,-2.1],[26,2.9],[30,2.1],[30,-2.7],[30,1.7],[40,1.9],[45,1.8],[1,0.3]];
var a16Fit = [[-53,0.5],[45.5,0.35]];
var a16Band = [[-53,-0.7,1.8],[-5,0.1,0.8],[45.5,-0.8,1.5]];

// panel table built from the arrays above (row-major: acute, sustained)
var panels = [
  { filled: a1Filled, open: a1Open, fit: a1Fit, band: a1Band, ticks: ticks24h, min: -15.34, max: 7.26 },
  { filled: a2Filled, open: a2Open, fit: a2Fit, band: a2Band, ticks: ticks24h, min: -15.53, max: 7.89 },
  { filled: a3Filled, open: a3Open, fit: a3Fit, band: a3Band, ticks: ticksAccum, min: -7.12, max: 5.23 },
  { filled: a4Filled, open: a4Open, fit: a4Fit, band: a4Band, ticks: ticksAccum, min: -7.45, max: 5.2 },
  { filled: a5Filled, open: a5Open, fit: a5Fit, band: a5Band, ticks: ticksLunch, min: -3.12, max: 3.12 },
  { filled: a6Filled, open: a6Open, fit: a6Fit, band: a6Band, ticks: ticksLunch, min: -3.19, max: 3.57 },
  { filled: a7Filled, open: a7Open, fit: a7Fit, band: a7Band, ticks: ticksDinner, min: -5.07, max: 2.14 },
  { filled: a8Filled, open: a8Open, fit: a8Fit, band: a8Band, ticks: ticksDinner, min: -5.16, max: 2.14 },
  { filled: a9Filled, open: a9Open, fit: a9Fit, band: a9Band, ticks: ticksSnack, min: -8.14, max: 6.28 },
  { filled: a10Filled, open: a10Open, fit: a10Fit, band: a10Band, ticks: ticksSnack, min: -8.4, max: 6.15 },
  { filled: a11Filled, open: a11Open, fit: a11Fit, band: a11Band, ticks: ticksVas, min: -69.2, max: 42.6 },
  { filled: a12Filled, open: a12Open, fit: a12Fit, band: a12Band, ticks: ticksVas, min: -63.3, max: 42 },
  { filled: a13Filled, open: a13Open, fit: a13Fit, band: a13Band, ticks: ticksVas, min: -69.7, max: 47.2 },
  { filled: a14Filled, open: a14Open, fit: a14Fit, band: a14Band, ticks: ticksVas, min: -63.3, max: 42 },
  { filled: a15Filled, open: a15Open, fit: a15Fit, band: a15Band, ticks: ticksVas, min: -61, max: 42.4 },
  { filled: a16Filled, open: a16Open, fit: a16Fit, band: a16Band, ticks: ticksVas, min: -63.6, max: 49 }
];

var serif = '"Liberation Serif", "Times New Roman", serif';
var sans = '"Liberation Sans", Arial, sans-serif';

function minus(v) { return String(v).replace('-', '\u2212'); }

var grids = [], xAxes = [], yAxes = [], series = [], graphics = [];

panels.forEach(function (p, i) {
  var r = Math.floor(i / 2), c = i % 2;
  var top = 29 + 203.2 * r;   // pixel row of y = 8
  grids.push({ left: c ? 533 : 183, width: c ? 264 : 265, top: top - 3, height: 158 });

  xAxes.push({
    type: 'value', gridIndex: i, min: p.min, max: p.max,
    name: xNames[i], nameLocation: 'middle', nameGap: 12,
    nameTextStyle: { fontSize: 5.6, color: '#222', fontFamily: sans },
    axisLine: { onZero: false, lineStyle: { color: '#444', width: 0.7 } },
    axisTick: { length: 2.5, customValues: p.ticks, lineStyle: { color: '#444', width: 0.6 } },
    axisLabel: { customValues: p.ticks, fontSize: 5.6, margin: 3, color: '#333', fontFamily: sans, formatter: minus },
    splitLine: { show: false }
  });
  yAxes.push({
    type: 'value', gridIndex: i, min: -10.6, max: 8.36,
    name: yName, nameLocation: 'middle', nameGap: 12,
    nameTextStyle: { fontSize: 5.4, color: '#222', fontFamily: sans },
    axisLine: { onZero: false, lineStyle: { color: '#444', width: 0.7 } },
    axisTick: { length: 2.5, customValues: yTicks, lineStyle: { color: '#444', width: 0.6 } },
    axisLabel: { customValues: yTicks, fontSize: 5.6, margin: 3, color: '#333', fontFamily: sans, formatter: minus },
    splitLine: { show: true, lineStyle: { color: '#e3e7ea', width: 0.8 } }
  });

  // confidence band: upper edge left→right, lower edge right→left
  var ring = p.band.map(function (b) { return [b[0], b[2]]; })
    .concat(p.band.slice().reverse().map(function (b) { return [b[0], b[1]]; }));
  series.push({
    type: 'custom', xAxisIndex: i, yAxisIndex: i, silent: true, z: 1,
    data: ring,
    renderItem: function (params, api) {
      if (params.dataIndex !== 0) return null;
      var pts = ring.map(function (q) { return api.coord(q); });
      return {
        type: 'polygon', shape: { points: pts },
        style: { fill: '#a9a9a9', stroke: '#2a2a2a', lineWidth: 0.8 }
      };
    }
  });
  series.push({
    type: 'line', xAxisIndex: i, yAxisIndex: i, data: p.fit, symbol: 'none', silent: true, z: 2,
    lineStyle: { color: '#222', width: 0.9 }
  });
  series.push({
    type: 'scatter', xAxisIndex: i, yAxisIndex: i, data: p.open, symbolSize: 4.7, silent: true, z: 3,
    itemStyle: { color: 'rgba(255,255,255,0)', borderColor: '#333', borderWidth: 1 }
  });
  series.push({
    type: 'scatter', xAxisIndex: i, yAxisIndex: i, data: p.filled, symbolSize: 4.7, silent: true, z: 4,
    itemStyle: { color: '#111', borderColor: '#111', borderWidth: 0.3 }
  });

  graphics.push({
    type: 'text', x: c ? 795 : 446, y: top + 142, scaleX: 0.8, z: 10,
    style: {
      text: '{n|\u03b2 ' + statBeta[i] + ', }{i|R}{n| ' + statR[i] + ', }{i|P}{n|=' + statP[i] + '}',
      align: 'right', verticalAlign: 'middle', fill: '#000',
      rich: {
        n: { fontFamily: serif, fontSize: 12.5, fill: '#000' },
        i: { fontFamily: serif, fontSize: 12.5, fontStyle: 'italic', fill: '#000' }
      }
    }
  });
});

// column headings
graphics.push({ type: 'text', x: 303, y: 9, style: { text: colTitles[0], align: 'center', verticalAlign: 'middle', fill: '#000', font: 'bold 15px ' + serif } });
graphics.push({ type: 'text', x: 653, y: 9, style: { text: colTitles[1], align: 'center', verticalAlign: 'middle', fill: '#000', font: 'bold 15px ' + serif } });

// row headings
var firstLine = [104, 291, 504, 709, 905, 1110, 1323, 1526];
rowLabels.forEach(function (lines, r) {
  lines.forEach(function (t, k) {
    var cx = 57;
    if (r === 0 && k === 1) cx = 45;
    if (r === 0 && k === 2) cx = 58;
    graphics.push({
      type: 'text', x: cx, y: firstLine[r] + k * 18, scaleX: 0.92,
      style: { text: t, align: 'center', verticalAlign: 'middle', fill: '#000',
        font: (k === 0 ? 'bold ' : '') + '15px ' + serif }
    });
  });
});

var chart = echarts.init(document.getElementById('chart'), null, { renderer: 'canvas' });
chart.setOption({
  backgroundColor: '#fff',
  animation: false,
  grid: grids,
  xAxis: xAxes,
  yAxis: yAxes,
  series: series,
  graphic: graphics
});
</script>
</body>
</html>
